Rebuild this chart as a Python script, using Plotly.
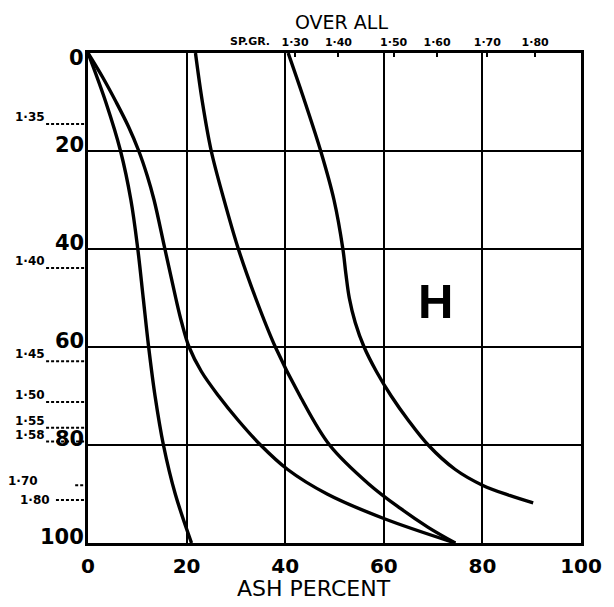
import plotly.graph_objects as go

# ---- data (ash percent X, cumulative percent Y) ----
curve1_x = [0, 3.6, 6.6, 8.7, 10.1, 11.2, 12.3, 13.6, 15.3, 17.7, 21.0]
curve1_y = [0, 10, 20, 30, 40, 50, 60, 70, 80, 90, 100]

curve2_x = [0, 3.0, 5.7, 8.2, 10.3, 12.0, 13.4, 15.6, 17.8, 19.0, 20.5, 23.0, 26.5, 30.5, 35.0, 40.5, 48.5, 60.0, 74.5]
curve2_y = [0, 5, 10, 15, 20, 25, 30, 40, 50, 55, 60, 65, 70, 75, 80, 85, 90, 95, 100]

curve3_x = [21.8, 23.2, 25.0, 27.6, 30.5, 34.0, 38.0, 43.0, 49.0, 57.0, 63.3, 69.0, 74.5]
curve3_y = [0, 10, 20, 30, 40, 50, 60, 70, 80, 88, 92.9, 96.8, 100]

curve4_x = [40.6, 44.0, 47.2, 49.9, 51.7, 52.3, 53.0, 54.2, 56.0, 58.5, 61.5, 65.0, 69.0, 74.5, 80.0, 85.5, 90.3]
curve4_y = [0, 10, 20, 30, 40, 45, 50, 55, 60, 65, 70, 75, 80, 85, 88.2, 90.3, 91.8]

x_ticks = [0, 20, 40, 60, 80, 100]
y_ticks = [0, 20, 40, 60, 80, 100]

top_sg_pos = [42, 50.8, 62, 70.8, 81, 90.7]
top_sg_labels = ["1·30", "1·40", "1·50", "1·60", "1·70", "1·80"]

left_sg_pos = [14.5, 43.9, 62.9, 71.2, 76.5, 79.3, 88.2, 91.2]
left_sg_labels = ["1·35", "1·40", "1·45", "1·50", "1·55", "1·58", "1·70", "1·80"]

FONT = "DejaVu Sans"

fig = go.Figure()
for xs, ys in [(curve1_x, curve1_y), (curve2_x, curve2_y),
               (curve3_x, curve3_y), (curve4_x, curve4_y)]:
    fig.add_trace(go.Scatter(x=xs, y=ys, mode="lines",
                             line=dict(color="black", width=3.4, shape="spline", smoothing=1.0),
                             showlegend=False, hoverinfo="skip"))

# invisible trace to activate top axis
fig.add_trace(go.Scatter(x=[0, 100], y=[0, 0], xaxis="x2", mode="markers",
                         marker=dict(opacity=0), showlegend=False, hoverinfo="skip"))

# page body has an 8px margin: size the figure so the plot lands where the reference has it
fig.update_layout(
    width=606, height=599, autosize=False,
    margin=dict(l=80, r=33, t=45, b=64),
    paper_bgcolor="white", plot_bgcolor="white",
    font=dict(family=FONT, color="black"),
    xaxis=dict(range=[0, 100], tickvals=x_ticks, ticktext=[str(v) for v in x_ticks],
               showgrid=True, gridcolor="black", gridwidth=2, zeroline=False,
               showline=True, mirror=True, linecolor="black", linewidth=3,
               ticks="", ticklabelstandoff=3,
               tickfont=dict(size=20, family=FONT, weight="bold")),
    xaxis2=dict(range=[0, 100], overlaying="x", side="top", anchor="y",
                tickvals=top_sg_pos, ticktext=top_sg_labels, showgrid=False,
                zeroline=False, showline=False, ticks="inside", ticklen=4,
                tickwidth=2, tickcolor="black", ticklabelstandoff=4,
                tickfont=dict(size=11, family=FONT, weight="bold")),
    yaxis=dict(range=[100, 0], tickvals=y_ticks, showticklabels=False,
               showgrid=True, gridcolor="black", gridwidth=2, zeroline=False,
               showline=True, mirror=True, linecolor="black", linewidth=3,
               ticks=""),
)

shapes = []
annotations = []

# left tick labels (sit slightly above their gridlines, as in the reference)
for v in y_ticks:
    annotations.append(dict(xref="paper", yref="y", x=0, y=v, text=str(v),
                            showarrow=False, xanchor="right", yanchor="middle",
                            xshift=-2, yshift=(-5 if v == 0 else 6),
                            font=dict(size=21, family=FONT, weight="bold")))

for v, lab in zip(left_sg_pos, left_sg_labels):
    if lab == "1·70":
        x0, tx, ty, ya, ys = -0.026, -0.097, v - 0.9, "middle", 0
    elif lab == "1·80":
        x0, tx, ty, ya, ys = -0.065, -0.073, v, "middle", 0
    else:
        x0, tx, ty, ya, ys = -0.085, -0.084, v, "bottom", -2
    shapes.append(dict(type="line", xref="paper", yref="y", x0=x0, x1=0, y0=v, y1=v,
                       line=dict(color="black", width=2, dash="3px,2px")))
    annotations.append(dict(xref="paper", yref="y", x=tx, y=ty, text=lab,
                            showarrow=False, xanchor="right", yanchor=ya, yshift=ys,
                            font=dict(size=12, family=FONT, weight="bold")))

annotations += [
    dict(xref="paper", yref="paper", x=(341 - 88) / 493, y=1 + 31 / 490, text="OVER ALL",
         showarrow=False, xanchor="center", yanchor="middle",
         font=dict(size=19, family=FONT)),
    dict(xref="x", yref="paper", x=32.9, y=1 + 11 / 490, text="SP.GR.",
         showarrow=False, xanchor="center", yanchor="middle",
         font=dict(size=11, family=FONT, weight="bold")),
    dict(xref="paper", yref="paper", x=(314 - 88) / 493, y=-(588 - 543) / 490, text="ASH PERCENT",
         showarrow=False, xanchor="center", yanchor="middle",
         font=dict(size=22, family=FONT)),
    dict(xref="x", yref="y", x=70.4, y=50.6, text="H", showarrow=False,
         font=dict(size=49, family="Liberation Sans", weight="bold")),
]

fig.update_layout(shapes=shapes, annotations=annotations)
fig.write_html("out.html")
